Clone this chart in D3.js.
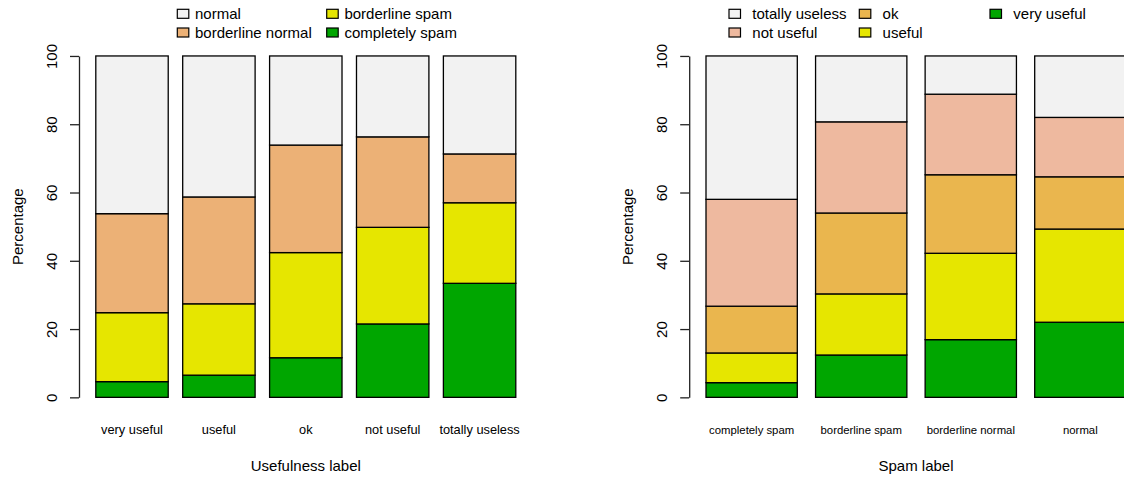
<!DOCTYPE html>
<html>
<head>
<meta charset="utf-8">
<script src="https://cdn.jsdelivr.net/npm/d3@7"></script>
<style>
  body { margin: 0; background: #fff; }
  svg { display: block; font-family: "Liberation Sans", Arial, sans-serif; }
</style>
</head>
<body>
<script>
// Left panel: usefulness label on x, stacked by spam label (percent)
const usefulCats = ["very useful", "useful", "ok", "not useful", "totally useless"];
const spamKeys = ["completely spam", "borderline spam", "borderline normal", "normal"];
const completelySpam = [4.6, 6.5, 11.6, 21.5, 33.4];
const borderlineSpam = [20.2, 20.9, 30.8, 28.3, 23.6];
const borderlineNormal = [29.0, 31.3, 31.5, 26.5, 14.3];
const normal = [46.2, 41.3, 26.1, 23.7, 28.7];

// Right panel: spam label on x, stacked by usefulness label (percent)
const spamCats = ["completely spam", "borderline spam", "borderline normal", "normal"];
const usefulKeys = ["very useful", "useful", "ok", "not useful", "totally useless"];
const veryUseful = [4.3, 12.4, 16.9, 22.0];
const useful = [8.7, 17.9, 25.3, 27.3];
const ok = [13.7, 23.7, 23.0, 15.3];
const notUseful = [31.3, 26.7, 23.6, 17.4];
const totallyUseless = [42.0, 19.3, 11.2, 18.0];

const yTicks = [0, 20, 40, 60, 80, 100];

let width = 1124;
let height = 477;
let plotW = 453.6;
let plotTop = 42.3, plotBottom = 411;

let svg = d3.select("body").append("svg")
  .attr("width", width)
  .attr("height", height);

// R style y scale: 0..100 stretched by 4% on both ends
let y = d3.scaleLinear().domain([-4, 104]).range([plotBottom, plotTop]);

function drawPanel(p) {
  let n = p.cats.length;
  let span = n * 1.2 - 0.2;
  let x = d3.scaleLinear()
    .domain([0.2 - 0.04 * span, 0.2 + span + 0.04 * span])
    .range([p.left, p.left + plotW]);

  // build the table for d3.stack
  let rows = p.cats.map((c, i) => {
    let r = { cat: c, i: i };
    p.keys.forEach((k, j) => r[k] = p.series[j][i]);
    return r;
  });
  let stacked = d3.stack().keys(p.keys)(rows);
  let color = d3.scaleOrdinal().domain(p.keys).range(p.colors);

  let g = svg.append("g");
  g.selectAll("g.layer")
    .data(stacked)
    .enter().append("g")
    .attr("class", "layer")
    .attr("fill", d => color(d.key))
    .selectAll("rect")
    .data(d => d)
    .enter().append("rect")
    .attr("x", d => x(0.2 + d.data.i * 1.2))
    .attr("width", x(1) - x(0))
    .attr("y", d => y(d[1]))
    .attr("height", d => y(d[0]) - y(d[1]))
    .attr("stroke", "#000")
    .attr("stroke-width", 1.3);

  // y axis, only from 0 to 100 like R
  let yAx = d3.scaleLinear().domain([0, 100]).range([y(0), y(100)]);
  let ax = svg.append("g")
    .attr("transform", `translate(${p.left},0)`)
    .call(d3.axisLeft(yAx).tickValues(yTicks).tickSize(9).tickSizeOuter(0));
  ax.select(".domain").attr("stroke", "#222").attr("stroke-width", 1.3);
  ax.selectAll(".tick line").attr("stroke", "#222").attr("stroke-width", 1.3);
  ax.selectAll(".tick text")
    .attr("transform", "rotate(-90)")
    .attr("x", 0)
    .attr("y", -22)
    .attr("dy", 0)
    .style("text-anchor", "middle")
    .style("font-size", "15px")
    .style("font-family", "Liberation Sans, Arial, sans-serif")
    .attr("fill", "#000");

  // category names under the bars
  g.selectAll("text.name")
    .data(p.cats)
    .enter().append("text")
    .attr("class", "name")
    .attr("x", (d, i) => x(0.7 + i * 1.2))
    .attr("y", 434)
    .style("text-anchor", "middle")
    .style("font-size", p.nameSize + "px")
    .text(d => d);

  // axis titles
  svg.append("text")
    .attr("x", p.left + plotW / 2)
    .attr("y", 471)
    .style("text-anchor", "middle")
    .style("font-size", "15px")
    .text(p.xlabel);

  svg.append("text")
    .attr("transform", `translate(${p.left - 56},${(plotTop + plotBottom) / 2}) rotate(-90)`)
    .style("text-anchor", "middle")
    .style("font-size", "15px")
    .text("Percentage");

  // legend, two rows, filled column by column (top layer first)
  let items = p.keys.slice().reverse();
  let legend = svg.selectAll(null)
    .data(items)
    .enter().append("g")
    .attr("transform", (d, i) => `translate(${p.legendX[Math.floor(i / 2)]}, ${13.8 + (i % 2) * 18.7})`);

  legend.append("rect")
    .attr("x", 0)
    .attr("y", -4.5)
    .attr("width", 11.5)
    .attr("height", 9)
    .attr("fill", d => color(d))
    .attr("stroke", "#000")
    .attr("stroke-width", 1.2);

  legend.append("text")
    .attr("x", p.textGap)
    .attr("y", 5)
    .style("font-size", "15px")
    .text(d => d);
}

drawPanel({
  left: 79,
  cats: usefulCats,
  keys: spamKeys,
  series: [completelySpam, borderlineSpam, borderlineNormal, normal],
  colors: ["#00A600", "#E6E600", "#ECB176", "#F2F2F2"],
  xlabel: "Usefulness label",
  nameSize: 12.8,
  legendX: [177.3, 326.7],
  textGap: 17.7
});

drawPanel({
  left: 689.2,
  cats: spamCats,
  keys: usefulKeys,
  series: [veryUseful, useful, ok, notUseful, totallyUseless],
  colors: ["#00A600", "#E6E600", "#EAB64E", "#EEB99F", "#F2F2F2"],
  xlabel: "Spam label",
  nameSize: 11.35,
  legendX: [729, 859.3, 990],
  textGap: 23.3
});
</script>
</body>
</html>
